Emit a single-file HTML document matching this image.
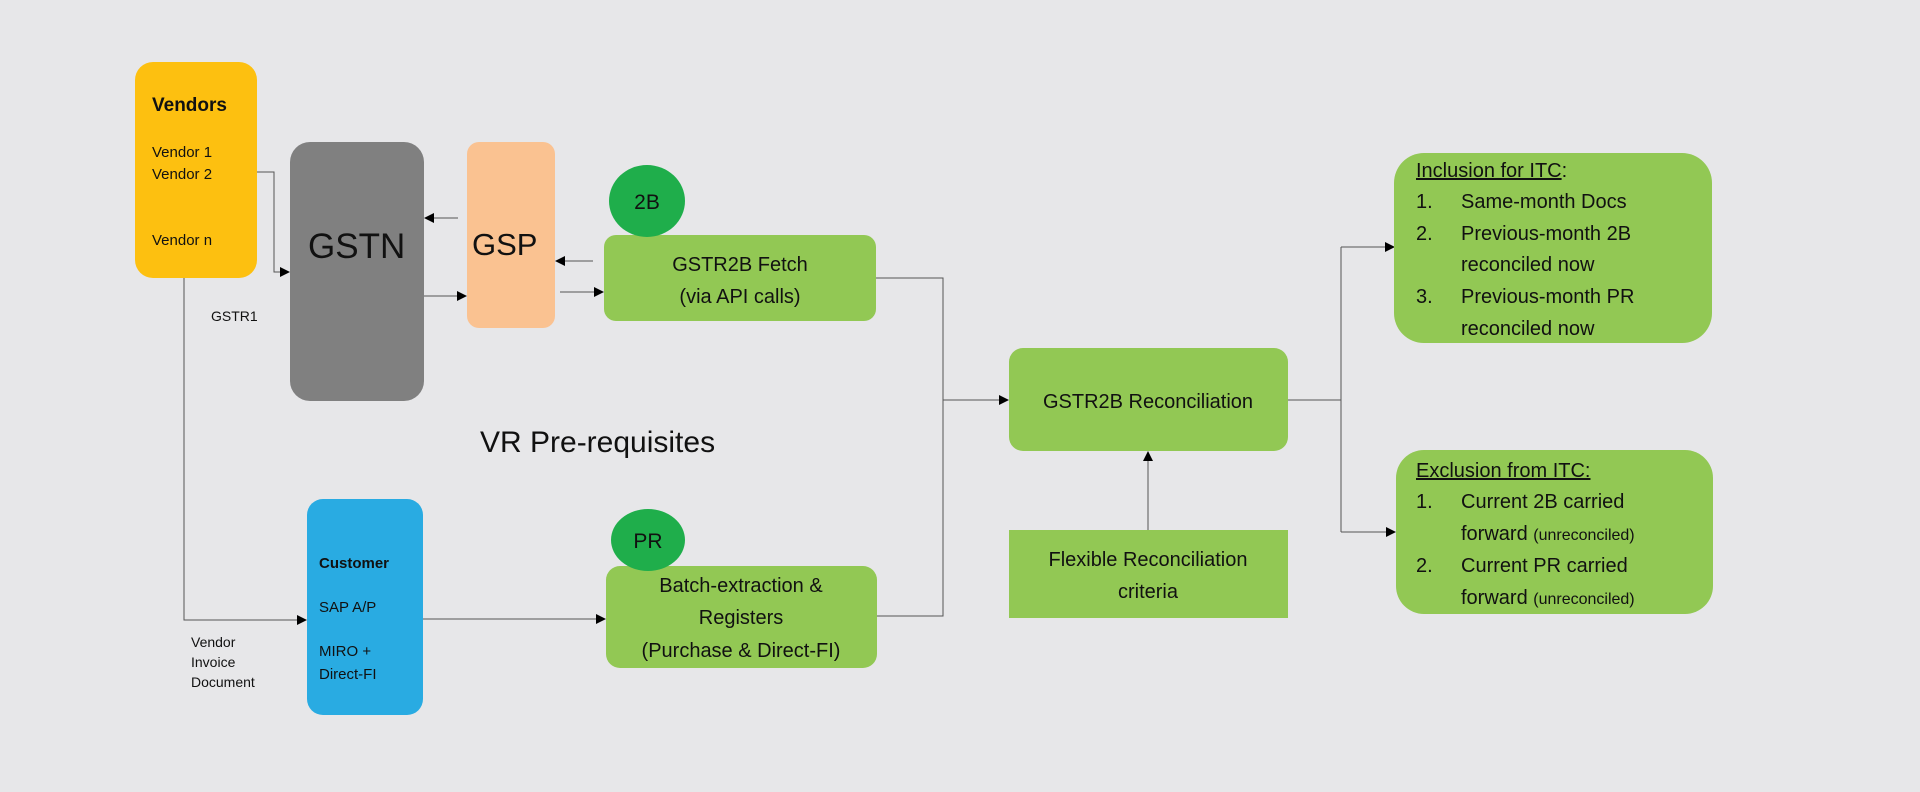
<!DOCTYPE html>
<html><head><meta charset="utf-8"><style>
html,body{margin:0;padding:0;background:#e7e7e9;}
svg{display:block;}
text{font-family:"Liberation Sans",sans-serif;fill:#111;}
</style></head><body>
<svg width="1920" height="792" viewBox="0 0 1920 792" xmlns="http://www.w3.org/2000/svg">
<defs>
<marker id="a" markerWidth="10" markerHeight="10" refX="9" refY="5" orient="auto" markerUnits="userSpaceOnUse">
<path d="M0,0 L10,5 L0,10 z" fill="#000"/></marker>
</defs>
<rect width="1920" height="792" fill="#e7e7e9"/>
<g stroke="#555" stroke-width="1" fill="none">
<polyline points="257,172 274,172 274,272 289,272" marker-end="url(#a)"/>
<line x1="458" y1="218" x2="425" y2="218" marker-end="url(#a)"/>
<line x1="424" y1="296" x2="466" y2="296" marker-end="url(#a)"/>
<line x1="593" y1="261" x2="556" y2="261" marker-end="url(#a)"/>
<line x1="560" y1="292" x2="603" y2="292" marker-end="url(#a)"/>
<polyline points="184,278 184,620 306,620" marker-end="url(#a)"/>
<line x1="423" y1="619" x2="605" y2="619" marker-end="url(#a)"/>
<polyline points="876,278 943,278 943,616 877,616"/>
<line x1="943" y1="400" x2="1008" y2="400" marker-end="url(#a)"/>
<line x1="1148" y1="530" x2="1148" y2="452" marker-end="url(#a)"/>
<polyline points="1288,400 1341,400"/>
<polyline points="1341,247 1341,532"/>
<line x1="1341" y1="247" x2="1394" y2="247" marker-end="url(#a)"/>
<line x1="1341" y1="532" x2="1395" y2="532" marker-end="url(#a)"/>
</g>
<rect x="135" y="62" width="122" height="216" rx="18" fill="#fdc010"/>
<rect x="290" y="142" width="134" height="259" rx="20" fill="#808080"/>
<rect x="467" y="142" width="88" height="186" rx="12" fill="#fac291"/>
<rect x="604" y="235" width="272" height="86" rx="12" fill="#92c854"/>
<ellipse cx="647" cy="201" rx="38" ry="36" fill="#1fae4b"/>
<rect x="307" y="499" width="116" height="216" rx="16" fill="#29abe2"/>
<rect x="606" y="566" width="271" height="102" rx="14" fill="#92c854"/>
<ellipse cx="648" cy="540" rx="37" ry="31" fill="#1fae4b"/>
<rect x="1009" y="348" width="279" height="103" rx="14" fill="#92c854"/>
<rect x="1009" y="530" width="279" height="88" fill="#92c854"/>
<rect x="1394" y="153" width="318" height="190" rx="30" fill="#92c854"/>
<rect x="1396" y="450" width="317" height="164" rx="28" fill="#92c854"/>
<text x="152" y="111" font-size="19" font-weight="bold">Vendors</text>
<text x="152" y="157" font-size="15">Vendor 1</text>
<text x="152" y="179" font-size="15">Vendor 2</text>
<text x="152" y="245" font-size="15">Vendor n</text>
<text x="308" y="258" font-size="35">GSTN</text>
<text x="472" y="255" font-size="31">GSP</text>
<text x="211" y="321" font-size="14">GSTR1</text>
<text x="480" y="452" font-size="30">VR Pre-requisites</text>
<text x="191" y="647" font-size="14">Vendor</text>
<text x="191" y="667" font-size="14">Invoice</text>
<text x="191" y="687" font-size="14">Document</text>
<text x="319" y="568" font-size="15" font-weight="bold">Customer</text>
<text x="319" y="612" font-size="15">SAP A/P</text>
<text x="319" y="656" font-size="15">MIRO +</text>
<text x="319" y="679" font-size="15">Direct-FI</text>
<text x="647" y="209" font-size="21" text-anchor="middle">2B</text>
<text x="648" y="548" font-size="21" text-anchor="middle">PR</text>
<g font-size="20" text-anchor="middle">
<text x="740" y="271">GSTR2B Fetch</text>
<text x="740" y="303">(via API calls)</text>
<text x="741" y="592">Batch-extraction &amp;</text>
<text x="741" y="624">Registers</text>
<text x="741" y="657">(Purchase &amp; Direct-FI)</text>
<text x="1148" y="408">GSTR2B Reconciliation</text>
<text x="1148" y="566">Flexible  Reconciliation</text>
<text x="1148" y="598">criteria</text>
</g>
<g font-size="20">
<text x="1416" y="177"><tspan text-decoration="underline">Inclusion for ITC</tspan>:</text>
<text x="1416" y="208">1.</text><text x="1461" y="208">Same-month Docs</text>
<text x="1416" y="240">2.</text><text x="1461" y="240">Previous-month 2B</text>
<text x="1461" y="271">reconciled now</text>
<text x="1416" y="303">3.</text><text x="1461" y="303">Previous-month PR</text>
<text x="1461" y="335">reconciled now</text>
<text x="1416" y="477" text-decoration="underline">Exclusion from ITC:</text>
<text x="1416" y="508">1.</text><text x="1461" y="508">Current 2B carried</text>
<text x="1461" y="540">forward <tspan font-size="16">(unreconciled)</tspan></text>
<text x="1416" y="572">2.</text><text x="1461" y="572">Current PR carried</text>
<text x="1461" y="604">forward <tspan font-size="16">(unreconciled)</tspan></text>
</g>
</svg>
</body></html>
